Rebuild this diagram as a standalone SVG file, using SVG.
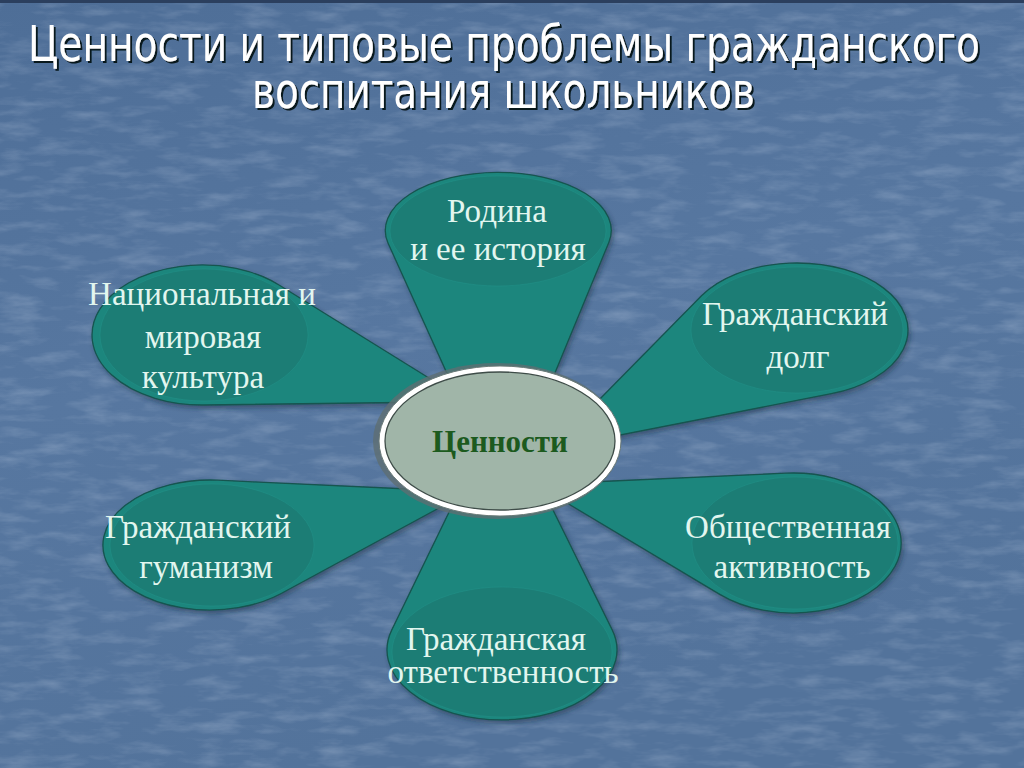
<svg xmlns="http://www.w3.org/2000/svg" width="1024" height="768" viewBox="0 0 1024 768">
  <defs>
    <linearGradient id="bg" x1="0" y1="0" x2="0.3" y2="1">
      <stop offset="0" stop-color="#4e6e97"/>
      <stop offset="0.5" stop-color="#5777a0"/>
      <stop offset="1" stop-color="#53739b"/>
    </linearGradient>
    <filter id="grain" x="0" y="0" width="100%" height="100%">
      <feTurbulence type="fractalNoise" baseFrequency="0.025 0.09" numOctaves="4" seed="11" result="n"/>
      <feColorMatrix in="n" type="matrix" values="0 0 0 0 0.85  0 0 0 0 0.9  0 0 0 0 1  0 0 0 1.8 -0.8"/>
    </filter>
    <filter id="shadow" x="-10%" y="-10%" width="120%" height="120%">
      <feDropShadow dx="2" dy="3" stdDeviation="2.5" flood-color="#1a2a40" flood-opacity="0.45"/>
    </filter>
    <filter id="tshadow" x="-2%" y="-30%" width="104%" height="160%">
      <feDropShadow dx="2" dy="2" stdDeviation="0.6" flood-color="#05080f" flood-opacity="0.9"/>
    </filter>
    <style>
      .petal { fill: #1f867d; stroke: #15544f; stroke-width: 1.3; filter: url(#shadow); }
      .face { fill: #1c7d75; stroke: #24958b; stroke-width: 1; stroke-opacity: 0.45; }
      .lbl { font-family: "Liberation Serif", "Times New Roman", serif; font-size: 33px; fill: #e2f6ef; text-anchor: middle; }
      .title { font-family: "DejaVu Sans Condensed", "DejaVu Sans", sans-serif; font-size: 44px; fill: #ffffff; text-anchor: middle; }
    </style>
  </defs>

  <!-- background -->
  <rect x="0" y="0" width="1024" height="768" fill="url(#bg)"/>
  <rect x="0" y="0" width="1024" height="768" filter="url(#grain)" opacity="0.22"/>
  <rect x="0" y="0" width="1024" height="3" fill="#2b3f5e"/>

  <!-- title -->
  <g id="title" filter="url(#tshadow)">
    <text class="title" transform="translate(504,61) scale(1,1.12)" x="0" y="0" textLength="952" lengthAdjust="spacingAndGlyphs">Ценности и типовые проблемы гражданского</text>
    <text class="title" transform="translate(503.5,108) scale(1,1.12)" x="0" y="0" textLength="503" lengthAdjust="spacingAndGlyphs">воспитания школьников</text>
  </g>

  <!-- petals -->
  <g id="node-rodina">
    <path class="petal" d="M 388,243 L 450,380 L 552,380 L 609,242 A 113 58 0 1 0 388,243 Z"/>
    <ellipse class="face" cx="498" cy="231" rx="108" ry="55"/>
    <text class="lbl" x="497" y="222">Родина</text>
    <text class="lbl" x="498" y="260">и ее история</text>
  </g>

  <g id="node-kultura">
    <path class="petal" d="M 279,285 L 445,388 L 440,402 L 204,405 A 110 70 0 1 1 279,285 Z"/>
    <ellipse class="face" cx="204" cy="335" rx="104" ry="66"/>
    <text class="lbl" x="202" y="305">Национальная и</text>
    <text class="lbl" x="203" y="348">мировая</text>
    <text class="lbl" x="203" y="388">культура</text>
  </g>

  <g id="node-dolg">
    <path class="petal" d="M 701.5,295.8 L 594,405 L 600,439 L 831.3,393.7 A 111 67 0 1 0 701.5,295.8 Z"/>
    <ellipse class="face" cx="797" cy="330" rx="106" ry="63"/>
    <text class="lbl" x="795" y="325">Гражданский</text>
    <text class="lbl" x="798" y="368">долг</text>
  </g>

  <g id="node-gumanizm">
    <path class="petal" d="M 218,480.2 L 430,490 L 450,502 L 281.2,593.5 A 107 65 0 1 1 218,480.2 Z"/>
    <ellipse class="face" cx="212" cy="545" rx="102" ry="61"/>
    <text class="lbl" x="198" y="538">Гражданский</text>
    <text class="lbl" x="206" y="578">гуманизм</text>
  </g>

  <g id="node-aktivnost">
    <path class="petal" d="M 785.6,473.2 L 590,482 L 562,500 L 719.8,594.4 A 108 70 0 1 0 785.6,473.2 Z"/>
    <ellipse class="face" cx="795" cy="543" rx="103" ry="66"/>
    <text class="lbl" x="788" y="538">Общественная</text>
    <text class="lbl" x="792" y="578">активность</text>
  </g>

  <g id="node-otvetstvennost">
    <path class="petal" d="M 391.7,630.1 L 455,500 L 548,500 L 612.2,629.9 A 115 70 0 1 1 391.7,630.1 Z"/>
    <ellipse class="face" cx="502" cy="652" rx="110" ry="65"/>
    <text class="lbl" x="496" y="650">Гражданская</text>
    <text class="lbl" x="503" y="683">ответственность</text>
  </g>

  <!-- centre -->
  <g id="node-cennosti">
    <ellipse cx="497" cy="441" rx="124" ry="78" fill="#5e6e72" opacity="0.8"/>
    <ellipse cx="500" cy="441" rx="121" ry="75" fill="#ffffff" stroke="#6a7a78" stroke-width="1"/>
    <ellipse cx="500" cy="441" rx="115" ry="69" fill="#a0b5a8" stroke="#3e4c48" stroke-width="1.3"/>
    <text x="500" y="452" font-family="Liberation Serif, Times New Roman, serif" font-size="31" font-weight="bold" fill="#1c5a1e" text-anchor="middle">Ценности</text>
  </g>
</svg>
